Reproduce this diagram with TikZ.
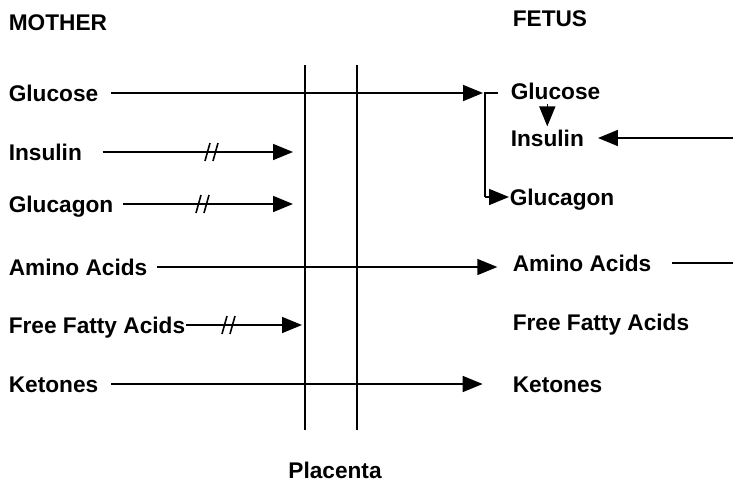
\documentclass[tikz,border=0pt]{standalone}
\usepackage{fontspec}
\setmainfont{Liberation Sans}
\usepackage{tikz}
\usetikzlibrary{positioning, calc, arrows.meta}

\tikzset{
    lbl/.style={anchor=west, inner sep=0pt, text height=12.2pt, text depth=0pt,
        font=\fontsize{17}{20}\selectfont\bfseries},
    arr/.style={-{Triangle[length=15pt, width=12pt]}},
    blocked/.pic={\draw[-] (-7,9) -- (-2,-9); \draw[-] (1,9) -- (6,-9);}
}

\begin{document}
\begin{tikzpicture}[x=0.75pt, y=-0.75pt, line width=1.2pt]
    \useasboundingbox (0,0) rectangle (733,490);

    % Headings
    \node[lbl] (mother) at (8,22) {MOTHER};
    \node[lbl] (fetus) at (512,18) {FETUS};
    \node[lbl, anchor=center] (placenta) at (335,470) {Placenta};

    % Placenta
    \draw (305,65) -- (305,430);
    \draw (357,65) -- (357,430);

    % Mother side
    \node[lbl] (mGlucose) at (8,93) {Glucose};
    \node[lbl] (mInsulin) at (8,152) {Insulin};
    \node[lbl] (mGlucagon) at (8,204) {Glucagon};
    \node[lbl] (mAmino) at (8,267) {Amino Acids};
    \node[lbl] (mFFA) at (8,325) {Free Fatty Acids};
    \node[lbl] (mKetones) at (8,384) {Ketones};

    % Fetus side
    \node[lbl] (fGlucose) at (510,91) {Glucose};
    \node[lbl] (fInsulin) at (510,138) {Insulin};
    \node[lbl] (fGlucagon) at (509,197) {Glucagon};
    \node[lbl] (fAmino) at (512,263) {Amino Acids};
    \node[lbl] (fFFA) at (512,322) {Free Fatty Acids};
    \node[lbl] (fKetones) at (512,384) {Ketones};

    % Free ends
    \coordinate (pInsulin) at (293,152);
    \coordinate (pGlucagon) at (293,204);
    \coordinate (pFFA) at (302,325);
    \coordinate (brTop) at (485,93);
    \coordinate (brBot) at (485,197);
    \coordinate (rInsulin) at (733,138);
    \coordinate (rAmino) at (733,263);

    % Crossing the placenta
    \draw[arr] ([xshift=9pt]mGlucose.east) -- ([xshift=-1.5pt]brTop);
    \draw[arr] ([xshift=7pt]mAmino.east) -- ([xshift=-11pt]fAmino.west |- mAmino.east);
    \draw[arr] ([xshift=9pt]mKetones.east) -- ([xshift=-22pt]fKetones.west);

    % Blocked at the placenta
    \draw[arr] ([xshift=15pt]mInsulin.east) -- (pInsulin) pic at (212,152) {blocked};
    \draw[arr] ([xshift=7pt]mGlucagon.east) -- (pGlucagon) pic at (203,204) {blocked};
    \draw[arr] (mFFA.east) -- (pFFA) pic at (229,325) {blocked};

    % Fetus
    \draw ([xshift=-9pt]fGlucose.west |- brTop) -- (brTop) -- (brBot);
    \draw[arr] (brBot) -- (fGlucagon.west);
    \draw[arr] ($(fInsulin.north |- fGlucose.south)+(0,4)$) -- ([yshift=2pt]fInsulin.north);
    \draw[arr] (rInsulin) -- ([xshift=10pt]fInsulin.east);
    \draw (rAmino) -- ([xshift=15pt]fAmino.east);

\end{tikzpicture}
\end{document}
